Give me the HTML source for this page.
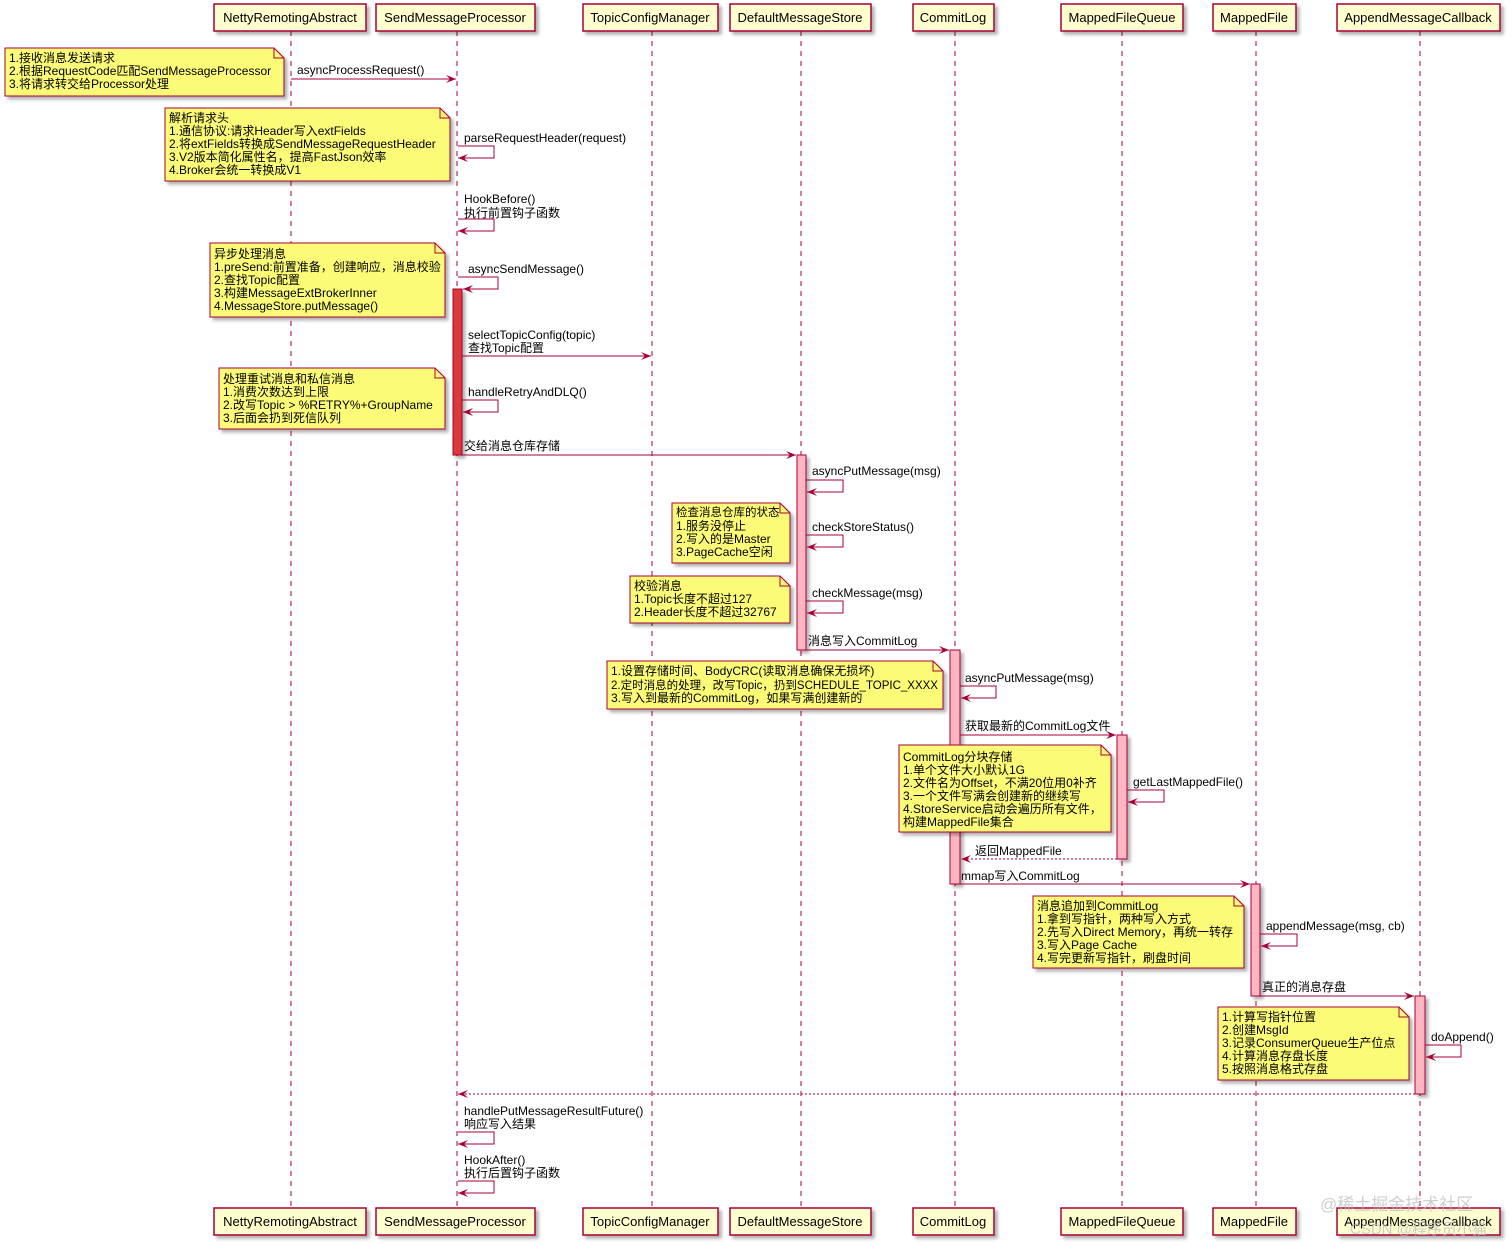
<!DOCTYPE html>
<html><head><meta charset="utf-8"><style>
html,body{margin:0;padding:0;background:#fff;}
svg{display:block;}
text{font-family:"Liberation Sans","Noto Sans CJK SC",sans-serif;font-size:12px;fill:#000;}
.p{font-size:13px;}
.ll{stroke:#A80036;stroke-width:1;stroke-dasharray:5,5;}
.box{fill:#FEFECE;stroke:#A80036;stroke-width:1.5;}
.note{fill:#FBFB77;stroke:#A80036;stroke-width:1;}
.m{stroke:#A80036;stroke-width:1;fill:none;}
.act{fill:#FFB6C1;stroke:#A80036;stroke-width:1;}
</style></head><body>
<svg width="1512" height="1246" viewBox="0 0 1512 1246" xmlns="http://www.w3.org/2000/svg">
<defs>
<marker id="a" markerWidth="10" markerHeight="8" refX="10" refY="4" orient="auto" markerUnits="userSpaceOnUse"><path d="M0,0 L10,4 L0,8 L4,4 Z" fill="#A80036"/></marker>
<filter id="sh" x="-5%" y="-5%" width="115%" height="130%"><feDropShadow dx="3" dy="3" stdDeviation="1.5" flood-color="#000" flood-opacity="0.3"/></filter>
</defs>
<g class="ll">
<line x1="291" y1="31" x2="291" y2="1208"/><line x1="457" y1="31" x2="457" y2="1208"/>
<line x1="652" y1="31" x2="652" y2="1208"/><line x1="801" y1="31" x2="801" y2="1208"/>
<line x1="955" y1="31" x2="955" y2="1208"/><line x1="1122" y1="31" x2="1122" y2="1208"/>
<line x1="1256" y1="31" x2="1256" y2="1208"/><line x1="1420" y1="31" x2="1420" y2="1208"/>
</g>
<g filter="url(#sh)">
<rect class="box" x="214" y="4" width="152" height="27"/><rect class="box" x="376" y="4" width="159" height="27"/>
<rect class="box" x="583" y="4" width="135" height="27"/><rect class="box" x="730" y="4" width="141" height="27"/>
<rect class="box" x="913" y="4" width="81" height="27"/><rect class="box" x="1061" y="4" width="122" height="27"/>
<rect class="box" x="1213" y="4" width="83" height="27"/><rect class="box" x="1337" y="4" width="163" height="27"/>
<rect class="box" x="214" y="1208" width="152" height="27"/><rect class="box" x="376" y="1208" width="159" height="27"/>
<rect class="box" x="583" y="1208" width="135" height="27"/><rect class="box" x="730" y="1208" width="141" height="27"/>
<rect class="box" x="913" y="1208" width="81" height="27"/><rect class="box" x="1061" y="1208" width="122" height="27"/>
<rect class="box" x="1213" y="1208" width="83" height="27"/><rect class="box" x="1337" y="1208" width="163" height="27"/>
</g>
<g class="p" text-anchor="middle">
<text class="p" x="290" y="22">NettyRemotingAbstract</text><text class="p" x="455" y="22">SendMessageProcessor</text>
<text class="p" x="650" y="22">TopicConfigManager</text><text class="p" x="800" y="22">DefaultMessageStore</text>
<text class="p" x="953" y="22">CommitLog</text><text class="p" x="1122" y="22">MappedFileQueue</text>
<text class="p" x="1254" y="22">MappedFile</text><text class="p" x="1418" y="22">AppendMessageCallback</text>
<text class="p" x="290" y="1226">NettyRemotingAbstract</text><text class="p" x="455" y="1226">SendMessageProcessor</text>
<text class="p" x="650" y="1226">TopicConfigManager</text><text class="p" x="800" y="1226">DefaultMessageStore</text>
<text class="p" x="953" y="1226">CommitLog</text><text class="p" x="1122" y="1226">MappedFileQueue</text>
<text class="p" x="1254" y="1226">MappedFile</text><text class="p" x="1418" y="1226">AppendMessageCallback</text>
</g>
<g filter="url(#sh)">
<rect x="453" y="289" width="9" height="166" fill="#D93B3B" stroke="#A80036"/>
<rect class="act" x="797" y="455" width="9" height="195"/>
<rect class="act" x="950" y="650" width="10" height="234"/>
<rect class="act" x="1117" y="735" width="10" height="124"/>
<rect class="act" x="1251" y="884" width="9" height="112"/>
<rect class="act" x="1415" y="996" width="10" height="98"/>
</g>
<g filter="url(#sh)">
<path class="note" d="M5,48 H274 L284,58 V96 H5 Z"/>
<path class="note" d="M165,108 H440 L450,118 V181 H165 Z"/>
<path class="note" d="M210,243 H435 L445,253 V317 H210 Z"/>
<path class="note" d="M219,368 H435 L445,378 V429 H219 Z"/>
<path class="note" d="M672,503 H780 L790,513 V563 H672 Z"/>
<path class="note" d="M630,576 H780 L790,586 V623 H630 Z"/>
<path class="note" d="M607,661 H933 L943,671 V709 H607 Z"/>
<path class="note" d="M899,745 H1101 L1111,755 V832 H899 Z"/>
<path class="note" d="M1033,896 H1234 L1244,906 V968 H1033 Z"/>
<path class="note" d="M1218,1007 H1399 L1409,1017 V1080 H1218 Z"/>
</g>
<g fill="none" stroke="#A80036">
<path d="M274,48 V58 H284"/><path d="M440,108 V118 H450"/><path d="M435,243 V253 H445"/><path d="M435,368 V378 H445"/>
<path d="M780,503 V513 H790"/><path d="M780,576 V586 H790"/><path d="M933,661 V671 H943"/><path d="M1101,745 V755 H1111"/>
<path d="M1234,896 V906 H1244"/><path d="M1399,1007 V1017 H1409"/>
</g>
<text x="9" y="62">1.接收消息发送请求</text><text x="9" y="75">2.根据RequestCode匹配SendMessageProcessor</text><text x="9" y="88">3.将请求转交给Processor处理</text>
<text x="169" y="122">解析请求头</text><text x="169" y="135">1.通信协议:请求Header写入extFields</text><text x="169" y="148">2.将extFields转换成SendMessageRequestHeader</text><text x="169" y="161">3.V2版本简化属性名，提高FastJson效率</text><text x="169" y="174">4.Broker会统一转换成V1</text>
<text x="214" y="258">异步处理消息</text><text x="214" y="271">1.preSend:前置准备，创建响应，消息校验</text><text x="214" y="284">2.查找Topic配置</text><text x="214" y="297">3.构建MessageExtBrokerInner</text><text x="214" y="310">4.MessageStore.putMessage()</text>
<text x="223" y="383">处理重试消息和私信消息</text><text x="223" y="396">1.消费次数达到上限</text><text x="223" y="409">2.改写Topic &gt; %RETRY%+GroupName</text><text x="223" y="422">3.后面会扔到死信队列</text>
<text x="676" y="516" style="font-size:11.5px">检查消息仓库的状态</text><text x="676" y="530">1.服务没停止</text><text x="676" y="543">2.写入的是Master</text><text x="676" y="556">3.PageCache空闲</text>
<text x="634" y="590">校验消息</text><text x="634" y="603">1.Topic长度不超过127</text><text x="634" y="616">2.Header长度不超过32767</text>
<text x="611" y="675">1.设置存储时间、BodyCRC(读取消息确保无损坏)</text><text x="611" y="689" style="font-size:11.5px">2.定时消息的处理，改写Topic，扔到SCHEDULE_TOPIC_XXXX</text><text x="611" y="702">3.写入到最新的CommitLog，如果写满创建新的</text>
<text x="903" y="761">CommitLog分块存储</text><text x="903" y="774">1.单个文件大小默认1G</text><text x="903" y="787">2.文件名为Offset，不满20位用0补齐</text><text x="903" y="800">3.一个文件写满会创建新的继续写</text><text x="903" y="813">4.StoreService启动会遍历所有文件，</text><text x="903" y="826">构建MappedFile集合</text>
<text x="1037" y="910">消息追加到CommitLog</text><text x="1037" y="923">1.拿到写指针，两种写入方式</text><text x="1037" y="936">2.先写入Direct Memory，再统一转存</text><text x="1037" y="949">3.写入Page Cache</text><text x="1037" y="962">4.写完更新写指针，刷盘时间</text>
<text x="1222" y="1021">1.计算写指针位置</text><text x="1222" y="1034">2.创建MsgId</text><text x="1222" y="1047">3.记录ConsumerQueue生产位点</text><text x="1222" y="1060">4.计算消息存盘长度</text><text x="1222" y="1073">5.按照消息格式存盘</text>
<g class="m" marker-end="url(#a)">
<line x1="291" y1="79" x2="456" y2="79"/>
<path d="M458,146 H494 V158 H458"/>
<path d="M458,219 H494 V231 H458"/>
<path d="M458,277 H498 V289 H463"/>
<line x1="462" y1="356" x2="651" y2="356"/>
<path d="M462,400 H498 V412 H463"/>
<line x1="462" y1="455" x2="796" y2="455"/>
<path d="M806,480 H843 V492 H807"/>
<path d="M806,535 H843 V547 H807"/>
<path d="M806,601 H843 V613 H807"/>
<line x1="806" y1="650" x2="949" y2="650"/>
<path d="M960,686 H996 V698 H961"/>
<line x1="960" y1="735" x2="1116" y2="735"/>
<path d="M1127,790 H1164 V802 H1128"/>
<line x1="1117" y1="859" x2="961" y2="859" stroke-dasharray="2,2"/>
<line x1="960" y1="884" x2="1250" y2="884"/>
<path d="M1260,934 H1297 V946 H1261"/>
<line x1="1260" y1="996" x2="1414" y2="996"/>
<path d="M1425,1045 H1461 V1057 H1426"/>
<line x1="1415" y1="1094" x2="458" y2="1094" stroke-dasharray="2,2"/>
<path d="M458,1132 H494 V1144 H458"/>
<path d="M458,1181 H494 V1193 H458"/>
</g>
<text x="297" y="74">asyncProcessRequest()</text>
<text x="464" y="142">parseRequestHeader(request)</text>
<text x="464" y="203">HookBefore()</text><text x="464" y="217">执行前置钩子函数</text>
<text x="468" y="273">asyncSendMessage()</text>
<text x="468" y="339">selectTopicConfig(topic)</text><text x="468" y="352">查找Topic配置</text>
<text x="468" y="396">handleRetryAndDLQ()</text>
<text x="464" y="450">交给消息仓库存储</text>
<text x="812" y="475">asyncPutMessage(msg)</text>
<text x="812" y="531">checkStoreStatus()</text>
<text x="812" y="597">checkMessage(msg)</text>
<text x="808" y="645">消息写入CommitLog</text>
<text x="965" y="682">asyncPutMessage(msg)</text>
<text x="965" y="730">获取最新的CommitLog文件</text>
<text x="1133" y="786">getLastMappedFile()</text>
<text x="975" y="855">返回MappedFile</text>
<text x="961" y="880">mmap写入CommitLog</text>
<text x="1266" y="930">appendMessage(msg, cb)</text>
<text x="1262" y="991">真正的消息存盘</text>
<text x="1431" y="1041">doAppend()</text>
<text x="464" y="1115">handlePutMessageResultFuture()</text><text x="464" y="1128">响应写入结果</text>
<text x="464" y="1164">HookAfter()</text><text x="464" y="1177">执行后置钩子函数</text>
<text x="1320" y="1210" style="font-size:17px;fill:#bbb;opacity:0.7">@稀土掘金技术社区</text>
<text x="1350" y="1234" style="font-size:15px;fill:#bbb;opacity:0.7">CSDN @程序员小猫</text>
</svg>
</body></html>
